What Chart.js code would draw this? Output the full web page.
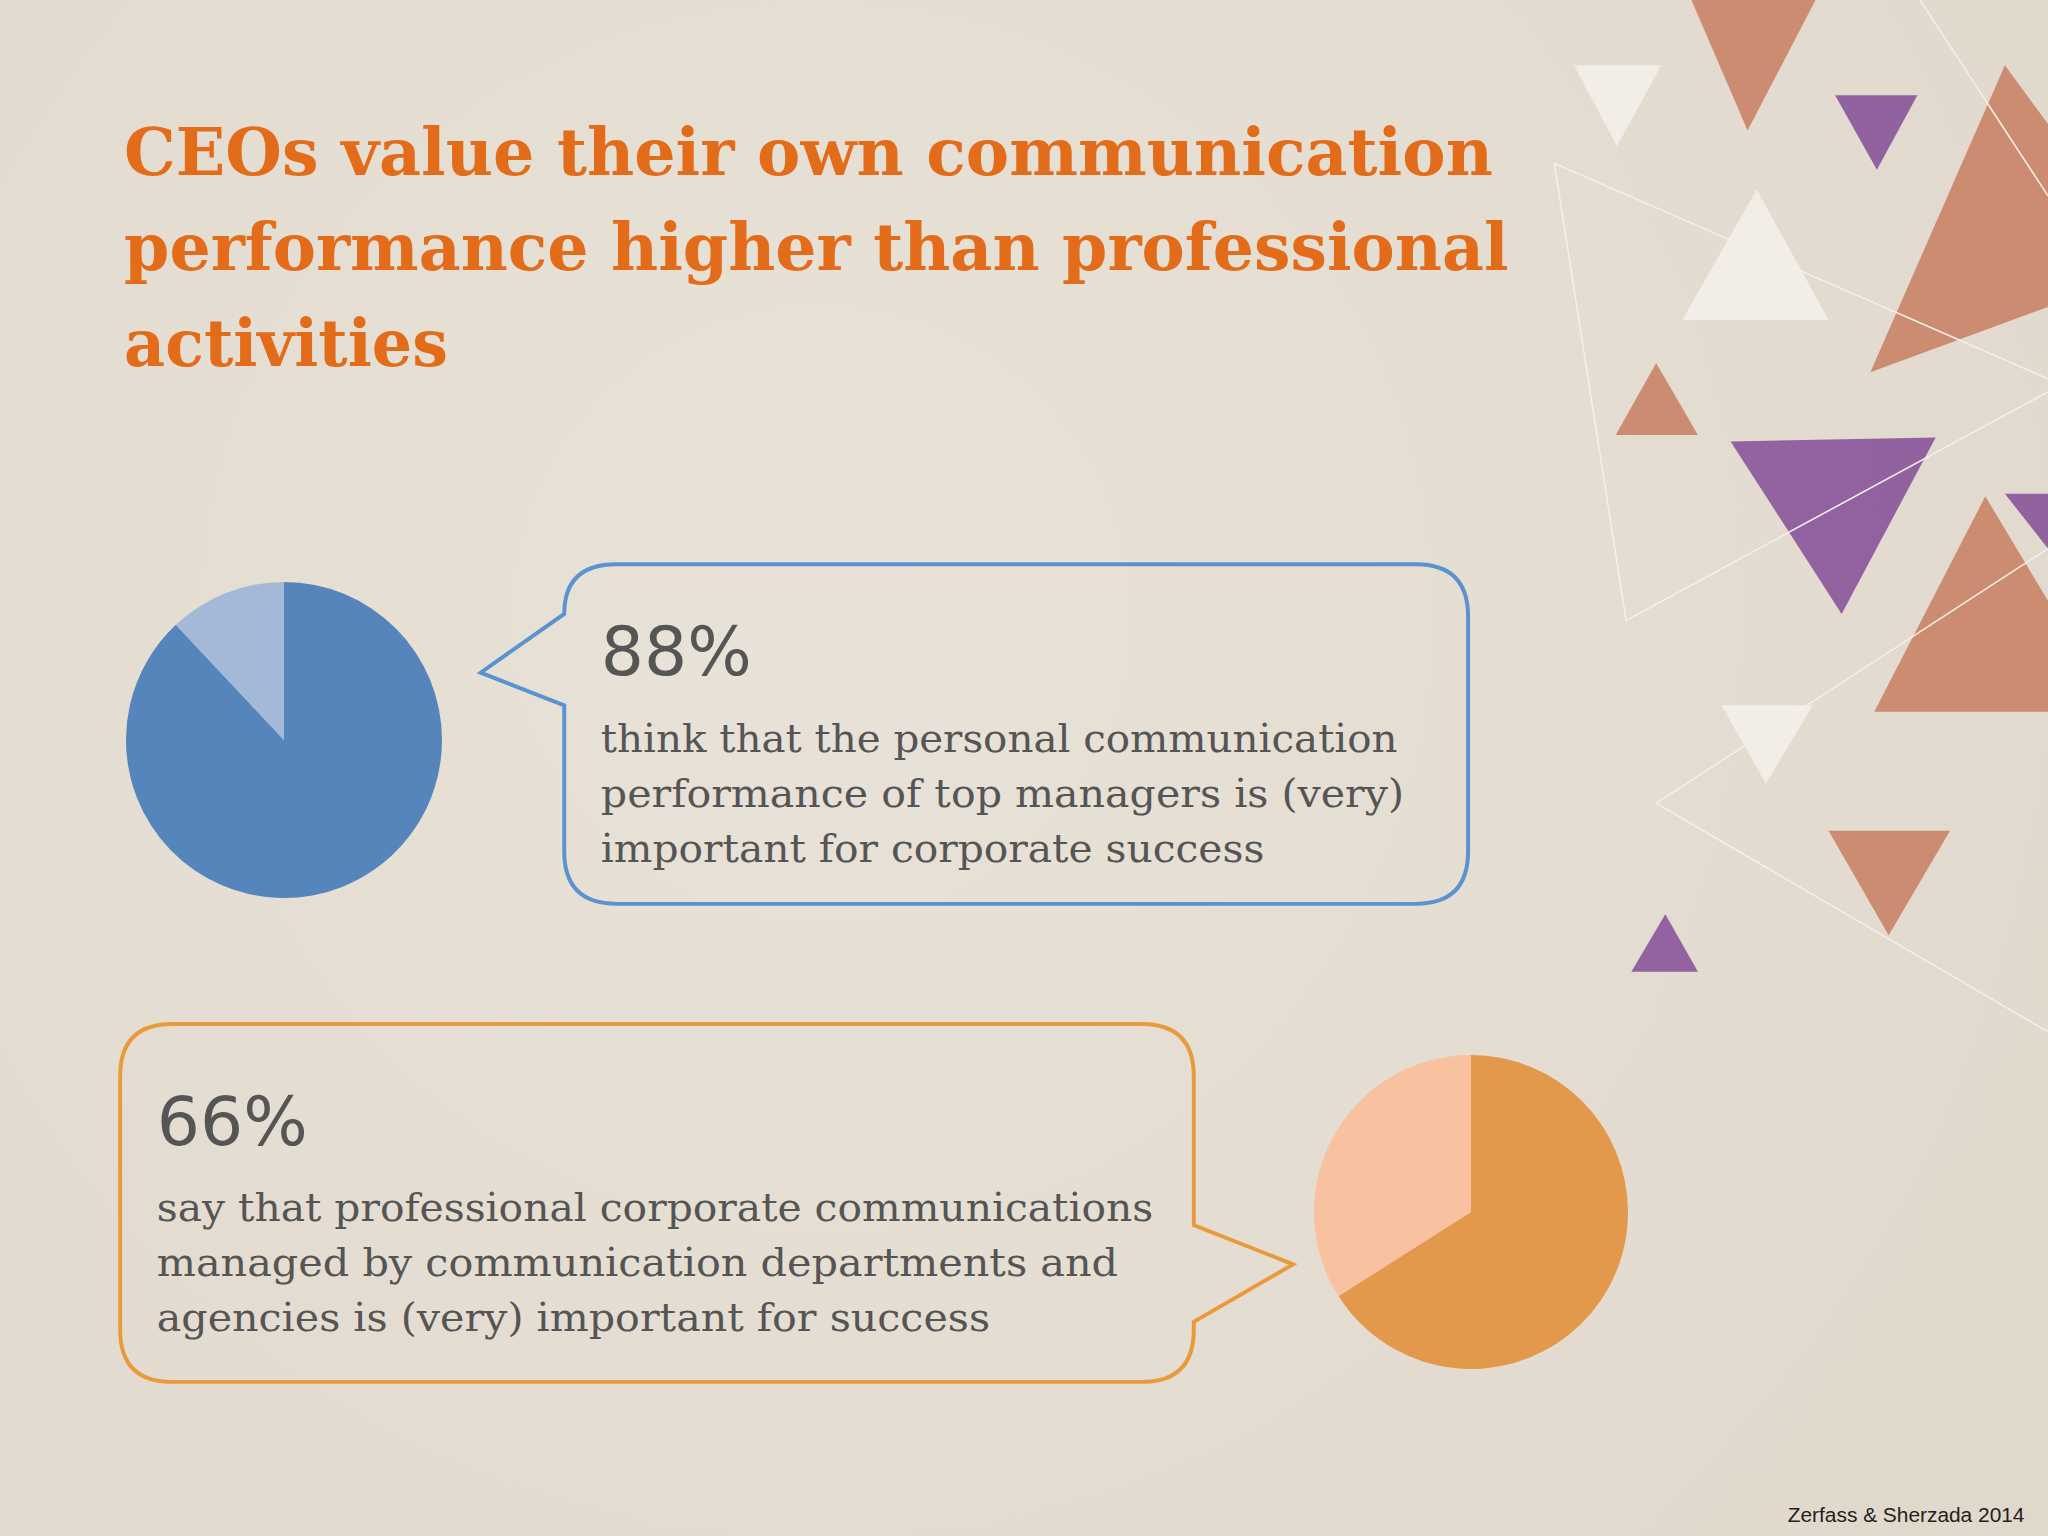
<!DOCTYPE html>
<html lang="en">
<head>
<meta charset="UTF-8">
<title>CEOs value their own communication performance</title>
<script src="https://cdn.jsdelivr.net/npm/chart.js"></script>
<style>
  body { margin: 0; background: #e5ddd1; }
  .page { position: relative; width: 2048px; height: 1536px; overflow: hidden;
          background: radial-gradient(circle at 40% 40%, #e9e2d8, #e0d8cb); }
  svg { position: absolute; left: 0; top: 0; }
  .pie { position: absolute; }
</style>
</head>
<body>
<div class="page">
  <svg width="2048" height="1536" viewBox="0 0 1568 1176">
    <!-- decoration -->
    <g opacity="0.9">
      <polygon points="1295,0 1390,0 1338,100" fill="#c98468"/>
      <polygon points="1205,50 1272,50 1238,112" fill="#f4f0ea"/>
      <polygon points="1405,73 1468,73 1437,130" fill="#8a559c"/>
      <polygon points="1345,145 1400,245 1288,245" fill="#f4f0ea"/>
      <polygon points="1535,50 1568,95 1568,235 1432,285" fill="#c98468"/>
      <polygon points="1268,278 1300,333 1237,333" fill="#c98468"/>
      <polygon points="1325,338 1482,335 1410,470" fill="#8a559c"/>
      <polygon points="1535,378 1568,378 1568,420" fill="#8a559c"/>
      <polygon points="1520,380 1568,460 1568,545 1435,545" fill="#c98468"/>
      <polygon points="1318,540 1388,540 1352,600" fill="#f4f0ea"/>
      <polygon points="1400,636 1493,636 1446,716" fill="#c98468"/>
      <polygon points="1275,700 1300,744 1249,744" fill="#8a559c"/>
      <g stroke="#f6f2ec" stroke-width="1.2" fill="none">
        <polyline points="1190,125 1245,475 1568,300"/>
        <polyline points="1268,615 1568,420"/>
        <polyline points="1268,615 1568,790"/>
        <polyline points="1470,0 1568,150"/>
        <polyline points="1190,125 1568,290"/>
      </g>
    </g>
    <!-- title -->
    <g font-family="DejaVu Serif" font-size="50" font-weight="bold" fill="#e36c1a">
      <text x="95" y="134" textLength="1048" lengthAdjust="spacingAndGlyphs">CEOs value their own communication</text>
      <text x="95" y="207" textLength="1060" lengthAdjust="spacingAndGlyphs">performance higher than professional</text>
      <text x="95" y="280" textLength="248" lengthAdjust="spacingAndGlyphs">activities</text>
    </g>
    <!-- bubble 1 -->
    <path d="M472,432 H1084 Q1124,432 1124,472 V652 Q1124,692 1084,692 H472 Q432,692 432,652 V540 L368,515 L432,470 Q432,432 472,432 Z"
          fill="none" stroke="#5b93cf" stroke-width="3"/>
    <g font-family="DejaVu Serif" fill="#555" font-size="30">
      <text x="460" y="517" font-family="DejaVu Sans" font-size="52" fill="#555">88%</text>
      <text x="460" y="576" textLength="610" lengthAdjust="spacingAndGlyphs">think that the personal communication</text>
      <text x="460" y="618" textLength="615" lengthAdjust="spacingAndGlyphs">performance of top managers is (very)</text>
      <text x="460" y="660" textLength="508" lengthAdjust="spacingAndGlyphs">important for corporate success</text>
    </g>
    <!-- bubble 2 -->
    <path d="M132,784 H874 Q914,784 914,824 V938 L990,968 L914,1012 V1018 Q914,1058 874,1058 H132 Q92,1058 92,1018 V824 Q92,784 132,784 Z"
          fill="none" stroke="#e99a3a" stroke-width="3"/>
    <g font-family="DejaVu Serif" fill="#555" font-size="30">
      <text x="120" y="877" font-family="DejaVu Sans" font-size="52" fill="#555">66%</text>
      <text x="120" y="935" textLength="763" lengthAdjust="spacingAndGlyphs">say that professional corporate communications</text>
      <text x="120" y="977" textLength="736" lengthAdjust="spacingAndGlyphs">managed by communication departments and</text>
      <text x="120" y="1019" textLength="638" lengthAdjust="spacingAndGlyphs">agencies is (very) important for success</text>
    </g>
    <text x="1550" y="1165" text-anchor="end" font-family="Liberation Sans" font-size="16" fill="#222">Zerfass &amp; Sherzada 2014</text>
  </svg>
  <div class="pie" style="left:126px;top:582px;width:316px;height:316px;"><canvas id="pie1"></canvas></div>
  <div class="pie" style="left:1314px;top:1047px;width:314px;height:330px;"><canvas id="pie2"></canvas></div>
</div>
<script>
  const pieLabels = ['(Very) important', 'Other'];
  const ceoValues = [88, 12];
  const proValues = [66, 34];

  function makePie(id, values, colors) {
    new Chart(document.getElementById(id), {
      type: 'pie',
      data: { labels: pieLabels, datasets: [{ data: values, backgroundColor: colors, borderWidth: 0 }] },
      options: {
        responsive: true, maintainAspectRatio: false, animation: false,
        layout: { padding: 0 },
        plugins: { legend: { display: false }, tooltip: { enabled: false } }
      }
    });
  }
  makePie('pie1', ceoValues, ['#5585bb', '#a4b9d8']);
  makePie('pie2', proValues, ['#e3994c', '#f8c2a0']);
</script>
</body>
</html>
